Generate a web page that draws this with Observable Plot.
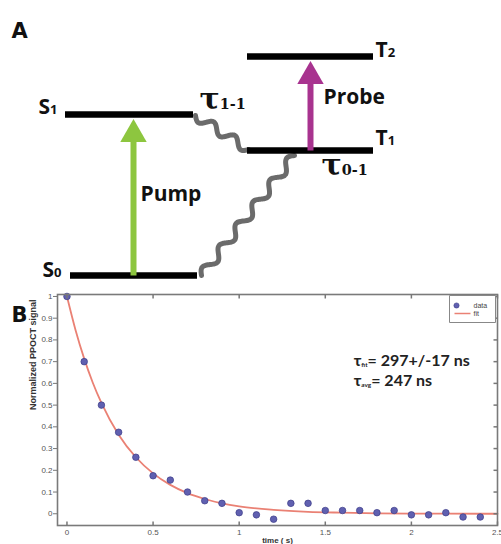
<!DOCTYPE html>
<html><head><meta charset="utf-8">
<script src="https://cdn.jsdelivr.net/npm/d3@7"></script>
<script src="https://cdn.jsdelivr.net/npm/@observablehq/plot@0.6"></script>
<style>
body{margin:0;background:#fff;}
#wrap{position:relative;width:501px;height:544px;overflow:hidden;background:#fff;}
#a{position:absolute;left:0;top:0}
#b{position:absolute;left:0;top:285px}
</style></head><body><div id="wrap"><div id="a"></div><div id="b"></div></div>
<script>
// ---------- Panel A data: Jablonski diagram ----------
const levelNames    = ["S_{0}", "S_{1}", "T_{1}", "T_{2}"];
const levelEnergies = [10, 171, 135, 229];           // energy units of the diagram
const transitionNames  = ["Pump", "Probe"];
const transitionFrom   = ["S_{0}", "T_{1}"];
const transitionTo     = ["S_{1}", "T_{2}"];
const relaxNames = ["τ_{1-1}", "τ_{0-1}"];
const relaxFrom  = ["S_{1}", "T_{1}"];
const relaxTo    = ["T_{1}", "S_{0}"];

// ---------- Panel B data: decay ----------
const times  = [0, 0.1, 0.2, 0.3, 0.4, 0.5, 0.6, 0.7, 0.8, 0.9, 1.0, 1.1, 1.2, 1.3, 1.4, 1.5, 1.6, 1.7, 1.8, 1.9, 2.0, 2.1, 2.2, 2.3, 2.4];
const signal = [1.0, 0.70, 0.50, 0.375, 0.26, 0.175, 0.155, 0.10, 0.06, 0.048, 0.005, -0.005, -0.025, 0.048, 0.048, 0.015, 0.015, 0.015, 0.005, 0.015, -0.005, -0.005, 0.005, -0.015, -0.015];
const fitTimes  = [0, 0.05, 0.1, 0.15, 0.2, 0.3, 0.4, 0.5, 0.6, 0.7, 0.8, 0.9, 1.0, 1.2, 1.4, 1.6, 1.8, 2.0, 2.2, 2.5];
const fitValues = [1.0, 0.845, 0.714, 0.603, 0.51, 0.364, 0.26, 0.186, 0.133, 0.095, 0.068, 0.048, 0.034, 0.018, 0.009, 0.005, 0.002, 0.001, 0.0005, 0];
const xTicks = [0, 0.5, 1, 1.5, 2, 2.5];
const yTicks = [0, 0.1, 0.2, 0.3, 0.4, 0.5, 0.6, 0.7, 0.8, 0.9, 1];
const legendLabels = ["data", "fit"];
const tauFitText = "τ_{fit}= 297+/-17 ns";
const tauAvgText = "τ_{avg}= 247 ns";

// ---------- layout (pixels) ----------
const HA = 285, HB = 259, W = 501;
const E = py => HA - py;   // page pixel -> diagram energy axis
const levelSpan = {"S_{0}": [70, 197], "S_{1}": [65, 193], "T_{1}": [247, 373], "T_{2}": [247, 373]};
const transitionX = {"Pump": 133, "Probe": 310};
const transitionColor = {"Pump": "#8dc63f", "Probe": "#a8338f"};
const relaxEnds = {"τ_{1-1}": [[195, 115], [248, 149]], "τ_{0-1}": [[294, 155], [201, 275]]};
const relaxPeriods = {"τ_{1-1}": 2.5, "τ_{0-1}": 5.5};
const labelPos = {
  "S_{0}": [61, 270], "S_{1}": [57, 107], "T_{1}": [375, 138], "T_{2}": [375, 50],
  "Pump": [140, 194], "Probe": [323, 97],
  "τ_{1-1}": [199, 99], "τ_{0-1}": [321, 165]
};

const levels = levelNames.map((n, i) => ({name: n, energy: levelEnergies[i], x1: levelSpan[n][0], x2: levelSpan[n][1]}));
const energyOf = n => levelEnergies[levelNames.indexOf(n)];
const transitions = transitionNames.map((n, i) => ({
  name: n, x: transitionX[n], from: energyOf(transitionFrom[i]), tip: energyOf(transitionTo[i]) - 4.5, color: transitionColor[n]
}));
function wave([x0, y0], [x1, y1], periods, amp, id) {
  const dx = x1 - x0, dy = y1 - y0, L = Math.hypot(dx, dy), nx = -dy / L, ny = dx / L;
  return d3.range(161).map(i => {
    const t = i / 160, o = amp * Math.sin(2 * Math.PI * periods * t);
    return {id, x: x0 + dx * t + nx * o, y: E(y0 + dy * t + ny * o)};
  });
}
const waves = relaxNames.flatMap((n, i) => wave(relaxEnds[n][0], relaxEnds[n][1], relaxPeriods[n], 4.5, n));
const lab = n => ({text: n, x: labelPos[n][0], y: E(labelPos[n][1])});
const singletLabels = levelNames.filter(n => n[0] === "S").map(lab);
const tripletLabels = levelNames.filter(n => n[0] === "T").map(lab);
const transLabels = transitionNames.map(lab);
const relaxLabels = relaxNames.map(lab);

const arrowHead = {draw(ctx, size) { const r = Math.sqrt(size / Math.PI); ctx.moveTo(0, 0); ctx.lineTo(1.2 * r, 2.1 * r); ctx.lineTo(-1.2 * r, 2.1 * r); ctx.closePath(); }};

const bold = "'Open Sans', sans-serif";
const labelStyle = {x: "x", y: "y", text: "text", fontSize: 21, fontWeight: "bold", fontFamily: bold, fill: "#111"};
const plotA = Plot.plot({
  width: W, height: HA, margin: 0,
  x: {domain: [0, W], axis: null}, y: {domain: [0, HA], axis: null},
  marks: [
    Plot.line(waves, {x: "x", y: "y", z: "id", stroke: "#6b6b6b", strokeWidth: 5, curve: "catmull-rom"}),
    Plot.ruleY(levels, {y: "energy", x1: "x1", x2: "x2", stroke: "#000", strokeWidth: 6.5}),
    Plot.link(transitions, {x1: "x", x2: "x", y1: "from", y2: d => d.tip - 14, stroke: "color", strokeWidth: 6}),
    Plot.dot(transitions, {x: "x", y: "tip", symbol: arrowHead, r: 11, fill: "color", stroke: null}),
    Plot.text(singletLabels, {...labelStyle, textAnchor: "end"}),
    Plot.text(tripletLabels, {...labelStyle, textAnchor: "start"}),
    Plot.text(transLabels, {...labelStyle, textAnchor: "start"}),
    Plot.text(relaxLabels, {...labelStyle, textAnchor: "start", fontSize: 30, fontFamily: "'DejaVu Serif', serif"}),
    Plot.text(["A"], {frameAnchor: "top-left", lineAnchor: "middle", dx: 11, dy: 31, fontSize: 21, fontWeight: "bold", fontFamily: "'DejaVu Sans', sans-serif", textAnchor: "start", fill: "#111"})
  ]
});

// ---------- Panel B ----------
const dataPts = times.map((t, i) => ({t, v: signal[i]}));
const fitPts = fitTimes.map((t, i) => ({t, v: fitValues[i]}));
const tickRight = {draw(ctx) { ctx.moveTo(0, 0); ctx.lineTo(-4, 0); }};
const tickUp = {draw(ctx) { ctx.moveTo(0, 0); ctx.lineTo(0, -4); }};
const tickDown = {draw(ctx) { ctx.moveTo(0, 0); ctx.lineTo(0, 4); }};
const legendBox = {draw(ctx) { ctx.rect(-46, 0, 46, 27); }};
const legendLine = {draw(ctx) { ctx.moveTo(-16, 0); ctx.lineTo(0, 0); }};
const fmt = d => String(+d.toFixed(1));
const axisFont = "'Liberation Sans', Arial, sans-serif";
const plotB = Plot.plot({
  width: W, height: HB, marginTop: 9, marginBottom: 19, marginLeft: 57, marginRight: 4,
  x: {domain: [-0.055, 2.5]}, y: {domain: [-0.054, 1.009]},
  style: {fontFamily: axisFont},
  marks: [
    Plot.line(fitPts, {x: "t", y: "v", stroke: "#ea8174", strokeWidth: 1.8, curve: "monotone-x"}),
    Plot.dot(dataPts, {x: "t", y: "v", r: 3.3, fill: "#6060b0", stroke: "#3c3c88", strokeWidth: 0.7}),
    Plot.frame({stroke: "#7a7a7a", strokeWidth: 1.6}),
    Plot.axisY(yTicks, {anchor: "left", tickSize: 4, tickPadding: 1, tickFormat: fmt, fontSize: 8, fill: "#555", stroke: "#777", label: null}),
    Plot.dot(yTicks, {y: d => d, frameAnchor: "right", symbol: tickRight, r: 1, stroke: "#777", fill: "none"}),
    Plot.axisX(xTicks, {anchor: "bottom", tickSize: 0, tickPadding: 4, tickFormat: fmt, fontSize: 8, fill: "#555", label: null}),
    Plot.dot(xTicks, {x: d => d, frameAnchor: "bottom", symbol: tickUp, r: 1, stroke: "#777", fill: "none"}),
    Plot.dot(xTicks, {x: d => d, frameAnchor: "top", symbol: tickDown, r: 1, stroke: "#777", fill: "none"}),
    Plot.text(["Normalized PPOCT signal"], {frameAnchor: "left", dx: -24, rotate: -90, fontSize: 9, fontWeight: "bold", fill: "#333"}),
    Plot.text(["time ( s)"], {frameAnchor: "bottom", lineAnchor: "middle", dy: 15, fontSize: 8, fontWeight: "bold", fill: "#333"}),
    // legend
    Plot.dot([0], {frameAnchor: "top-right", dx: -2, dy: 1, symbol: legendBox, r: 1, fill: "white", stroke: "#888", strokeWidth: 1}),
    Plot.dot([legendLabels[0]], {frameAnchor: "top-right", dx: -41, dy: 11, r: 2.6, fill: "#6060b0", stroke: "#3c3c88", strokeWidth: 0.6}),
    Plot.dot([legendLabels[1]], {frameAnchor: "top-right", dx: -27, dy: 19, symbol: legendLine, r: 1, stroke: "#ea8174", strokeWidth: 1.5, fill: "none"}),
    Plot.text([legendLabels[0]], {frameAnchor: "top-right", lineAnchor: "middle", dx: -24, dy: 11, textAnchor: "start", fontSize: 7, fill: "#444"}),
    Plot.text([legendLabels[1]], {frameAnchor: "top-right", lineAnchor: "middle", dx: -24, dy: 19, textAnchor: "start", fontSize: 7, fill: "#444"}),
    // annotations
    Plot.text([tauFitText, tauAvgText], {x: 1.665, y: (d, i) => [0.705, 0.612][i], textAnchor: "start", fontSize: 16, fontWeight: "bold", fontFamily: "Lato, sans-serif", fill: "#222"}),
    Plot.text(["B"], {frameAnchor: "top-left", lineAnchor: "middle", dx: -46, dy: 21, fontSize: 21, fontWeight: "bold", fontFamily: "'DejaVu Sans', sans-serif", textAnchor: "start", fill: "#111"})
  ]
});

// real-text subscripts: "X_{sub}rest" -> tspans, sizes relative to the parent font (em)
function subscripts(svg, ratio, drop) {
  d3.select(svg).selectAll("text").each(function() {
    const el = this;
    if (el.querySelector("tspan")) return;
    const s = el.textContent;
    const m = s.match(/^(.*?)_\{(.*?)\}(.*)$/);
    if (!m) return;
    el.textContent = "";
    const sel = d3.select(el);
    sel.append("tspan").text(m[1]);
    const r = typeof ratio === "function" ? ratio(m[1]) : ratio;
    // drop is expressed in the subscript's own em; undo it in the parent's em
    sel.append("tspan").attr("font-size", r + "em").attr("dy", drop + "em").text(m[2]);
    if (m[3]) sel.append("tspan").attr("dy", (-drop * r) + "em").text(m[3]);
  });
}
subscripts(plotA, h => h === "τ" ? 0.48 : 0.62, 0.02);
subscripts(plotB, 0.4, 0.2);
document.getElementById("a").appendChild(plotA);
document.getElementById("b").appendChild(plotB);
</script></body></html>
